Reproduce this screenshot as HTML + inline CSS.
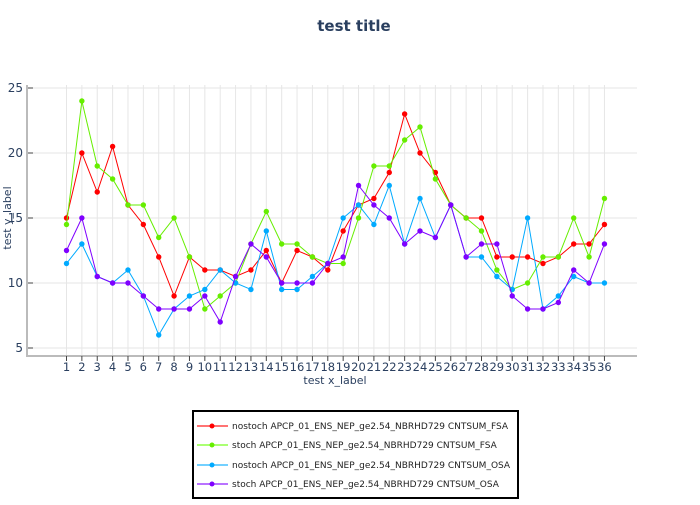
<!DOCTYPE html>
<html><head><meta charset="utf-8"><style>
body{margin:0;background:#fff;}
svg text{font-family:"DejaVu Sans","Liberation Sans",sans-serif;}
</style></head><body>
<svg id="s" width="700" height="500" xmlns="http://www.w3.org/2000/svg">
<rect width="700" height="500" fill="#fff"/>
<text x="354" y="31" text-anchor="middle" font-size="15" font-weight="bold" fill="#2a3f5f">test title</text>
<g id="grid" stroke="#e6e6e6" stroke-width="1"></g>
<g stroke="#bbb" stroke-width="2" fill="none">
<line x1="27" y1="85" x2="27" y2="356"/>
<line x1="26" y1="356" x2="637" y2="356"/>
</g>
<g id="ticks" stroke="#444" stroke-width="1"></g>
<g font-size="12" fill="#2a3f5f" text-anchor="end">
<text x="23" y="92">25</text><text x="23" y="157">20</text><text x="23" y="222">15</text><text x="23" y="287">10</text><text x="23" y="352">5</text>
</g>
<g font-size="11.5" fill="#2a3f5f" text-anchor="middle">
<text x="66.5" y="371">1</text><text x="81.9" y="371">2</text><text x="97.2" y="371">3</text><text x="112.6" y="371">4</text><text x="128" y="371">5</text><text x="143.3" y="371">6</text><text x="158.7" y="371">7</text><text x="174.1" y="371">8</text><text x="189.5" y="371">9</text><text x="204.8" y="371">10</text><text x="220.2" y="371">11</text><text x="235.6" y="371">12</text><text x="250.9" y="371">13</text><text x="266.3" y="371">14</text><text x="281.7" y="371">15</text><text x="297" y="371">16</text><text x="312.4" y="371">17</text><text x="327.8" y="371">18</text><text x="343.1" y="371">19</text><text x="358.5" y="371">20</text><text x="373.9" y="371">21</text><text x="389.3" y="371">22</text><text x="404.6" y="371">23</text><text x="420" y="371">24</text><text x="435.4" y="371">25</text><text x="450.7" y="371">26</text><text x="466.1" y="371">27</text><text x="481.5" y="371">28</text><text x="496.8" y="371">29</text><text x="512.2" y="371">30</text><text x="527.6" y="371">31</text><text x="542.9" y="371">32</text><text x="558.3" y="371">33</text><text x="573.7" y="371">34</text><text x="589.1" y="371">35</text><text x="604.4" y="371">36</text>
</g>
<text x="335" y="384" text-anchor="middle" font-size="11" fill="#2a3f5f">test x_label</text>
<text transform="translate(11,218) rotate(-90)" text-anchor="middle" font-size="11" fill="#2a3f5f">test y_label</text>
<g id="series"></g>
<rect x="193" y="411" width="325" height="87" fill="#fff" stroke="#000" stroke-width="2"/>
<g stroke-width="2">
<line x1="197" y1="426" x2="228" y2="426" stroke="#ff0000" stroke-opacity="0.55"/><circle cx="212" cy="426" r="2.5" fill="#ff0000"/>
<line x1="197" y1="445" x2="228" y2="445" stroke="#66ff00" stroke-opacity="0.55"/><circle cx="212" cy="445" r="2.5" fill="#66ee00"/>
<line x1="197" y1="465" x2="228" y2="465" stroke="#00aaff" stroke-opacity="0.55"/><circle cx="212" cy="465" r="2.5" fill="#00aaff"/>
<line x1="197" y1="484" x2="228" y2="484" stroke="#7f00ff" stroke-opacity="0.55"/><circle cx="212" cy="484" r="2.5" fill="#7f00ff"/>
</g>
<g font-size="9" fill="#222">
<text x="232" y="429">nostoch APCP_01_ENS_NEP_ge2.54_NBRHD729 CNTSUM_FSA</text>
<text x="232" y="448">stoch APCP_01_ENS_NEP_ge2.54_NBRHD729 CNTSUM_FSA</text>
<text x="232" y="468">nostoch APCP_01_ENS_NEP_ge2.54_NBRHD729 CNTSUM_OSA</text>
<text x="232" y="487">stoch APCP_01_ENS_NEP_ge2.54_NBRHD729 CNTSUM_OSA</text>
</g>
</svg>
<script>
var NS="http://www.w3.org/2000/svg";
function X(i){return 66.5+(i-1)*15.37;}
function Y(v){return 348-(v-5)*13;}
function el(p,t,a){var e=document.createElementNS(NS,t);for(var k in a)e.setAttribute(k,a[k]);p.appendChild(e);return e;}
var g=document.getElementById("grid"),tk=document.getElementById("ticks");
for(var v=5;v<=25;v+=5){el(g,"line",{x1:28,x2:637,y1:Y(v),y2:Y(v)});el(tk,"line",{x1:28,x2:33,y1:Y(v),y2:Y(v)});}
for(var i=1;i<=36;i++){el(g,"line",{x1:X(i),x2:X(i),y1:85,y2:355});el(tk,"line",{x1:X(i),x2:X(i),y1:356,y2:361});}
var D=[
["#ff0000",[15,20,17,20.5,16,14.5,12,9,12,11,11,10.5,11,12.5,10,12.5,12,11,14,16,16.5,18.5,23,20,18.5,16,15,15,12,12,12,11.5,12,13,13,14.5]],
["#66ee00",[14.5,24,19,18,16,16,13.5,15,12,8,9,10,13,15.5,13,13,12,11.5,11.5,15,19,19,21,22,18,16,15,14,11,9.5,10,12,12,15,12,16.5]],
["#00aaff",[11.5,13,10.5,10,11,9,6,8,9,9.5,11,10,9.5,14,9.5,9.5,10.5,11.5,15,16,14.5,17.5,13,16.5,13.5,16,12,12,10.5,9.5,15,8,9,10.5,10,10]],
["#7f00ff",[12.5,15,10.5,10,10,9,8,8,8,9,7,10.5,13,12,10,10,10,11.5,12,17.5,16,15,13,14,13.5,16,12,13,13,9,8,8,8.5,11,10,13]]];
var s=document.getElementById("series");
D.forEach(function(d){var p=d[1].map(function(v,i){return X(i+1)+","+Y(v);}).join(" ");
el(s,"polyline",{points:p,fill:"none",stroke:d[0],"stroke-width":1});
d[1].forEach(function(v,i){el(s,"circle",{cx:X(i+1),cy:Y(v),r:2.7,fill:d[0]});});});
</script>
</body></html>
